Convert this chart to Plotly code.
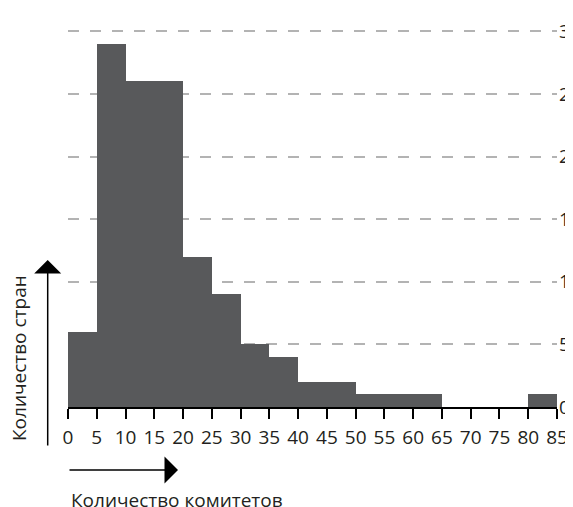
import plotly.graph_objects as go

bin_starts = [0, 5, 10, 15, 20, 25, 30, 35, 40, 45, 50, 55, 60, 65, 70, 75, 80]
bin_width = 5
counts = [6, 29, 26, 26, 12, 9, 5, 4, 2, 2, 1, 1, 1, 0, 0, 0, 1]
x_ticks = list(range(0, 90, 5))
y_ticks = [0, 5, 10, 15, 20, 25, 30]
x_title = "Количество комитетов"
y_title = "Количество стран"

BAR = "#58595b"
TXT = "#231f20"
FONT = "Open Sans"
FS = 19

# page body has an 8px margin; figure origin sits at (8, 8) in the window
OFF = 8
W, H = 573, 507
ml, mr, mt, mb = 60, 24, 17, 108
pw = W - ml - mr
ph = H - mt - mb

def px_x(wx):
    return (wx - OFF - ml) / pw

def px_y(wy):
    return (H - mb - (wy - OFF)) / ph

fig = go.Figure()
fig.add_trace(go.Bar(
    x=[s + bin_width / 2 for s in bin_starts],
    y=counts,
    width=[bin_width] * len(bin_starts),
    marker=dict(color=BAR, line=dict(width=0)),
    hoverinfo="x+y",
))

fig.update_layout(
    width=W, height=H,
    margin=dict(l=ml, r=mr, t=mt, b=mb, autoexpand=False),
    paper_bgcolor="white", plot_bgcolor="white",
    showlegend=False,
    bargap=0,
    font=dict(family=FONT, size=FS, color=TXT),
    xaxis=dict(
        range=[0, 85], tickmode="array", tickvals=x_ticks,
        ticktext=[str(v) for v in x_ticks],
        showgrid=False, zeroline=False, automargin=False,
        showline=True, linecolor="black", linewidth=2,
        ticks="outside", ticklen=10, tickwidth=1.5, tickcolor="black",
        ticklabelstandoff=2,
        tickfont=dict(size=FS, color=TXT, family=FONT),
        fixedrange=True,
    ),
    yaxis=dict(
        range=[0, 30.5], side="right", tickmode="array", tickvals=y_ticks,
        ticktext=[str(v) for v in y_ticks],
        showgrid=True, gridcolor="#b3b3b3", gridwidth=1.5, griddash="11px,11px",
        zeroline=False, showline=False, ticks="", automargin=False,
        ticklabelstandoff=1,
        tickfont=dict(size=FS, color=TXT, family=FONT),
        fixedrange=True,
    ),
    annotations=[
        dict(xref="paper", yref="paper", x=px_x(47.7), y=px_y(260),
             ax=0, ay=187, axref="pixel", ayref="pixel",
             showarrow=True, arrowhead=1, arrowsize=3, arrowwidth=1.5,
             arrowcolor="black", text=""),
        dict(xref="paper", yref="paper", x=px_x(178), y=px_y(470),
             ax=-110, ay=0, axref="pixel", ayref="pixel",
             showarrow=True, arrowhead=1, arrowsize=3, arrowwidth=1.5,
             arrowcolor="black", text=""),
        dict(xref="paper", yref="paper", x=px_x(69), y=px_y(500),
             xanchor="left", yanchor="middle", showarrow=False,
             text=x_title, font=dict(size=FS, color=TXT, family=FONT)),
        dict(xref="paper", yref="paper", x=px_x(19), y=px_y(358),
             xanchor="center", yanchor="middle", showarrow=False, textangle=-90,
             text=y_title, font=dict(size=FS, color=TXT, family=FONT)),
    ],
)

fig.write_html("out.html")
